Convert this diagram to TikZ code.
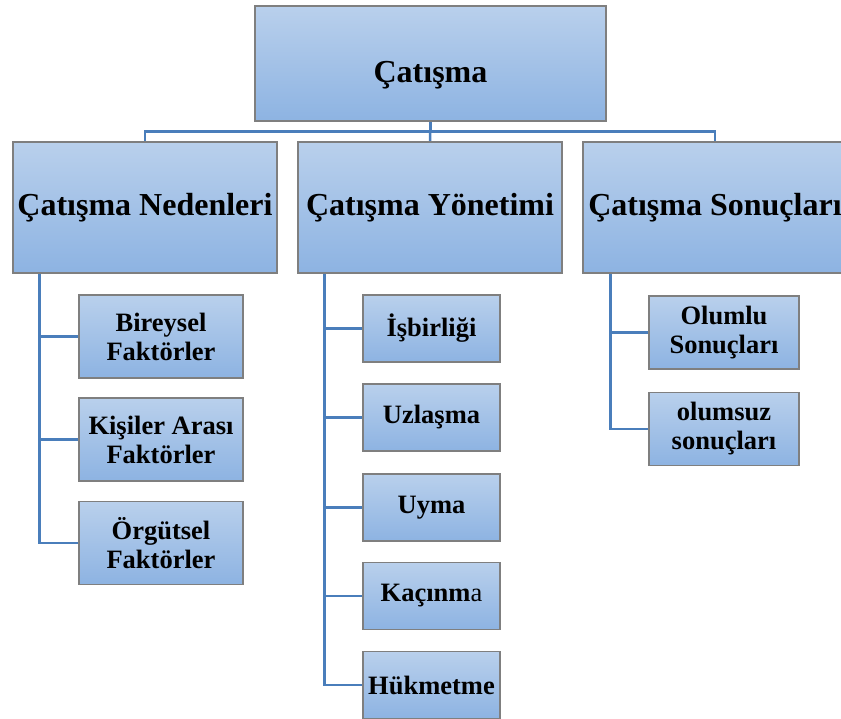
\documentclass[tikz,border=0pt]{standalone}
\usepackage{fontspec}
\setmainfont{Liberation Serif}
\usetikzlibrary{backgrounds}
\definecolor{boxtop}{HTML}{B9D0EC}
\definecolor{boxbot}{HTML}{8DB3E2}
\definecolor{boxedge}{HTML}{7F7F7F}
\definecolor{linkcol}{HTML}{4A7EBB}
\tikzset{
  box/.style={rectangle, draw=boxedge, line width=1.2pt, top color=boxtop, bottom color=boxbot,
    inner sep=0pt, align=center, font=\bfseries},
  bigtext/.style={font=\bfseries\fontsize{32}{37}\selectfont},
  smalltext/.style={font=\bfseries\fontsize{26.5}{29}\selectfont},
  link/.style={draw=linkcol, line width=2.5pt}
}
\begin{document}
\begin{tikzpicture}[x=1pt,y=-1pt]
\useasboundingbox (0,0) rectangle (841,719);
% top
\node[box,bigtext,minimum width=351pt,minimum height=115pt,text height=44pt,text depth=5pt] (top) at (430.5,63.5) {Çatışma};
% level 2
\node[box,bigtext,minimum width=264pt,minimum height=131pt] (ned) at (145,207.5) {Çatışma Nedenleri};
\node[box,bigtext,minimum width=264pt,minimum height=131pt] (yon) at (430,207.5) {Çatışma Yönetimi};
\node[box,bigtext,minimum width=264pt,minimum height=131pt] (son) at (715,207.5) {Çatışma Sonuçları};
% left children
\tikzset{lc/.style={box,smalltext,minimum width=164pt,minimum height=83pt}}
\node[lc] (n1) at (161,336.5) {Bireysel\\Faktörler};
\node[lc] (n2) at (161,439.5) {Kişiler Arası\\Faktörler};
\node[lc] (n3) at (161,543) {Örgütsel\\Faktörler};
% middle children
\tikzset{mc/.style={box,smalltext,minimum width=137pt,minimum height=67pt}}
\node[mc] (y1) at (431.5,328.5) {İşbirliği};
\node[mc] (y2) at (431.5,417.5) {Uzlaşma};
\node[mc] (y3) at (431.5,507.5) {Uyma};
\node[mc] (y4) at (431.5,596) {Kaçınm\textmd{a}};
\node[mc] (y5) at (431.5,685) {Hükmetme};
% right children
\tikzset{rc/.style={box,smalltext,minimum width=150pt,minimum height=73pt}}
\node[rc] (s1) at (724,332.5) {Olumlu\\Sonuçları};
\node[rc] (s2) at (724,429) {olumsuz\\sonuçları};
% connectors
\begin{scope}[on background layer]
\draw[link] (top.south) -- ++(0,10) -| (ned.north);
\draw[link] (top.south) -- ++(0,10) -| (son.north);
\draw[link] (top.south) -- (yon.north);
\foreach \c in {n1,n2,n3} \draw[link] (ned.south west) ++(27,0) |- (\c.west);
\foreach \c in {y1,y2,y3,y4,y5} \draw[link] (yon.south west) ++(27,0) |- (\c.west);
\foreach \c in {s1,s2} \draw[link] (son.south west) ++(28,0) |- (\c.west);
\end{scope}
\end{tikzpicture}
\end{document}
